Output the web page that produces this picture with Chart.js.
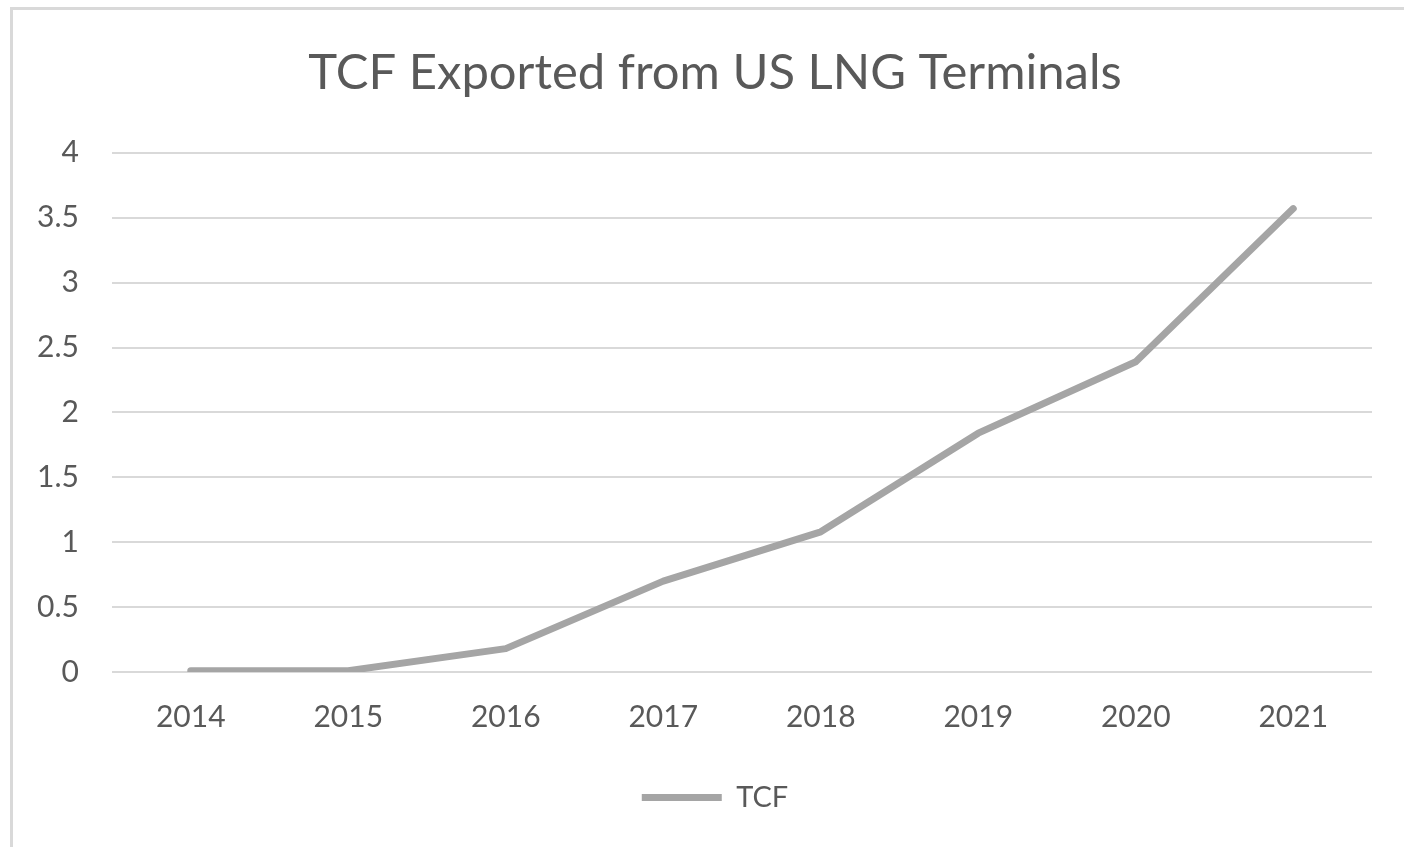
<!DOCTYPE html>
<html>
<head>
<meta charset="utf-8">
<script src="https://cdn.jsdelivr.net/npm/chart.js@4/dist/chart.umd.min.js"></script>
<style>
  html, body { margin: 0; padding: 0; background: #ffffff; }
  #wrap { position: relative; width: 1404px; height: 847px; overflow: hidden; background: #ffffff; }
  #frame { position: absolute; left: 10px; top: 7px; width: 1500px; height: 1000px;
           border-left: 3px solid #d9d9d9; border-top: 3px solid #d9d9d9; box-sizing: border-box; }
  #c { position: absolute; left: 0; top: 0; }
</style>
</head>
<body>
<div id="wrap">
  <div id="frame"></div>
  <canvas id="c" width="1404" height="847"></canvas>
</div>
<script>
const categories = ['2014', '2015', '2016', '2017', '2018', '2019', '2020', '2021'];
const tcfValues = [0.01, 0.01, 0.18, 0.70, 1.08, 1.84, 2.39, 3.57];
const yTickLabels = ['0', '0.5', '1', '1.5', '2', '2.5', '3', '3.5', '4'];
const seriesName = 'TCF';
const chartTitle = 'TCF Exported from US LNG Terminals';

const FONT = 'Lato';
const TEXT = '#595959';

// shifts the title and legend boxes so they centre like the reference
const shiftBoxes = {
  id: 'shiftBoxes',
  afterLayout(chart) {
    const dx = 29;
    [chart.titleBlock, chart.legend].forEach(b => {
      if (b) { b.left += dx; b.right += dx; }
    });
  }
};

new Chart(document.getElementById('c'), {
  type: 'line',
  data: {
    labels: categories,
    datasets: [{
      label: seriesName,
      data: tcfValues,
      borderColor: '#a5a5a5',
      backgroundColor: '#a5a5a5',
      borderWidth: 7,
      borderCapStyle: 'round',
      borderJoinStyle: 'round',
      pointRadius: 0,
      pointHoverRadius: 0,
      tension: 0,
      fill: false
    }]
  },
  plugins: [shiftBoxes],
  options: {
    responsive: false,
    animation: false,
    layout: { padding: { left: 0, right: 32, top: 0, bottom: 25 } },
    plugins: {
      title: {
        display: true,
        text: chartTitle,
        color: TEXT,
        font: { family: FONT, size: 49, weight: 'normal', lineHeight: 1.2 },
        padding: { top: 44, bottom: 50 }
      },
      legend: {
        display: true,
        position: 'bottom',
        labels: {
          color: TEXT,
          font: { family: FONT, size: 29 },
          usePointStyle: true,
          pointStyle: 'line',
          pointStyleWidth: 80,
          padding: 21
        }
      },
      tooltip: { enabled: false }
    },
    scales: {
      x: {
        offset: true,
        grid: { display: false, drawTicks: false },
        border: { display: false },
        ticks: { color: TEXT, font: { family: FONT, size: 30 }, padding: 27, maxRotation: 0 },
        afterFit: (s) => { s.height = 90; }
      },
      y: {
        min: 0,
        max: 4,
        grid: { color: '#d9d9d9', lineWidth: 2, drawTicks: false },
        border: { display: false },
        ticks: {
          stepSize: 0.5,
          color: TEXT,
          font: { family: FONT, size: 30 },
          padding: 33,
          callback: (v, i) => yTickLabels[i]
        },
        afterFit: (s) => { s.width = 112; }
      }
    }
  }
});
</script>
</body>
</html>
